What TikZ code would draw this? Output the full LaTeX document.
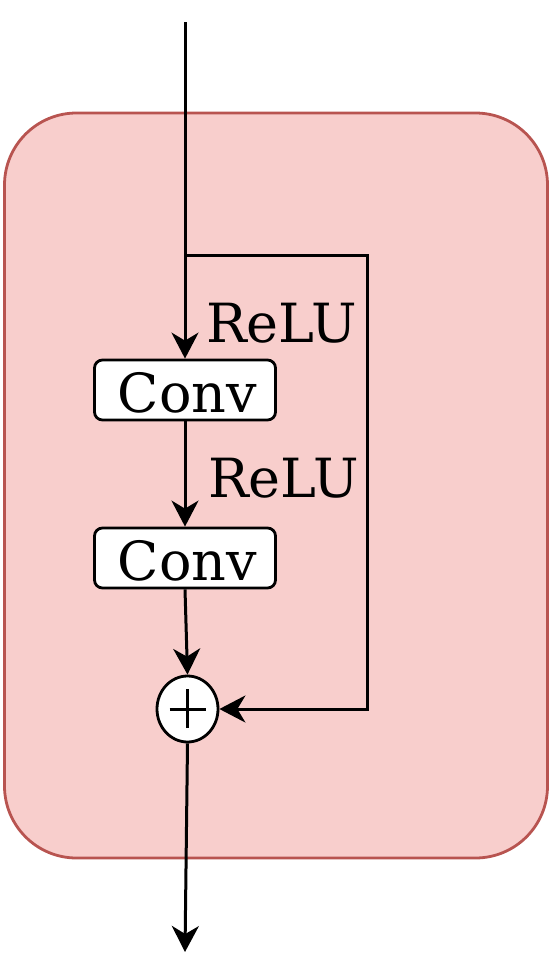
\documentclass[tikz,border=0pt]{standalone}
\usepackage{fontspec}
\setmainfont{DejaVu Serif}
\usetikzlibrary{arrows.meta,shapes.geometric}
\definecolor{boxfill}{HTML}{F8CECC}
\definecolor{boxline}{HTML}{B85450}
\begin{document}
\begin{tikzpicture}[x=1pt,y=-1pt,
  conn/.style={line width=3pt,black},
  arr/.style={conn,-{Stealth[length=26pt,width=27pt,inset=8pt]}},
  convbox/.style={draw,line width=2.8pt,fill=white,rounded corners=8pt,minimum width=181pt,minimum height=60pt,inner sep=0pt,text height=44pt,text depth=0pt,font=\fontsize{54pt}{60pt}\selectfont},
  lbl/.style={inner sep=0pt,font=\fontsize{54pt}{60pt}\selectfont}
]
\useasboundingbox (0,0) rectangle (549,978);
\node[draw=boxline,fill=boxfill,line width=2.8pt,rounded corners=72pt,minimum width=543pt,minimum height=745pt,inner sep=0pt] (frame) at (276,485.5) {};
\node[convbox] (conv1) at (185,390) {\hspace*{5pt}Conv};
\node[convbox] (conv2) at (185,558) {\hspace*{5pt}Conv};
\node[draw,ellipse,line width=2.8pt,fill=white,minimum width=61pt,minimum height=66pt,inner sep=0pt] (plus) at (187.5,709) {};
\draw[conn] ([xshift=-18pt]plus.center) -- ([xshift=18pt]plus.center);
\draw[conn] ([yshift=-19pt]plus.center) -- ([yshift=20pt]plus.center);
\node[lbl,anchor=base west] (relu1) at (206,342) {ReLU};
\node[lbl,anchor=base west] (relu2) at (208,497) {ReLU};
\coordinate (in) at (185,22);
\coordinate (bA) at (185,255);
\coordinate (bB) at (367,255);
\coordinate (bC) at (367,709);
\coordinate (out) at (185,952);
\draw[arr] (in) -- (conv1.north);
\draw[arr] (bA) -- (bB) -- (bC) -- (plus.east);
\draw[arr] (conv1.south) -- (conv2.north);
\draw[arr] (conv2.south) -- (plus.north);
\draw[arr] (plus.south) -- (out);
\end{tikzpicture}
\end{document}
